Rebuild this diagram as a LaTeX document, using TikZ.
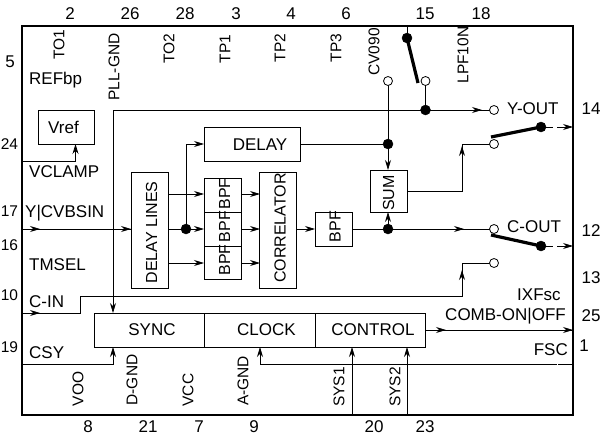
\documentclass[tikz,border=0pt]{standalone}
\usepackage{fontspec}
\setmainfont{Liberation Sans}
\usetikzlibrary{arrows.meta}
\tikzset{
 x=1pt,y=-1pt,
 blk/.style={draw,line width=0.8pt,inner sep=0pt},
 txt/.style={inner sep=0pt,font=\fontsize{17}{19}\selectfont},
 rtxt/.style={inner sep=0pt,rotate=90,font=\fontsize{16}{18}\selectfont},
 lab/.style={inner sep=0pt,anchor=west,font=\fontsize{17}{19}\selectfont},
 num/.style={inner sep=0pt,font=\fontsize{17}{19}\selectfont},
 lnum/.style={inner sep=0pt,anchor=west,font=\fontsize{15.5}{18}\selectfont},
 rot/.style={inner sep=0pt,rotate=90,font=\fontsize{15.5}{18}\selectfont},
 wire/.style={line width=0.8pt},
 arr/.style={wire,-{Stealth[length=10pt,width=6pt]}},
 dot/.style={circle,fill=black,draw=black,inner sep=0pt,minimum size=10pt},
 opendot/.style={circle,fill=white,draw=black,line width=0.8pt,inner sep=0pt,minimum size=9pt},
 sw/.style={line width=3.2pt},
}
\begin{document}
\begin{tikzpicture}
\useasboundingbox (0,0) rectangle (601,436);
\fill[white] (0,0) rectangle (601,436);
% frame
\draw[line width=2.2pt] (22,26) rectangle (573,415);
\coordinate (L1) at (22,161);\coordinate (L2) at (22,229);\coordinate (L3) at (22,313);\coordinate (L4) at (22,364);
% wires (drawn first, blocks and dots on top)
\draw[arr] (L1) -- (75.5,161) -- (75.5,144);
\draw[wire] (407,26) -- (407,38);
\draw[wire] (425.5,81) -- (425.5,110);
\draw[wire] (113,110) -- (494,110);
\draw[arr] (113,110) -- (113,313);
\draw[arr] (425.5,110) -- (482,110);
\draw[wire] (388,81) -- (388,144);
\draw[wire] (300,144) -- (388,144);
\draw[arr] (388,144) -- (388,170);
\draw[arr] (388,229) -- (388,212);
\draw[wire] (407,191) -- (462,191) -- (462,144) -- (494,144);
\draw[arr] (462,191) -- (462,146);
\draw[wire] (352,229) -- (494,229);
\draw[arr] (388,229) -- (464,229);
\draw[arr] (296,229) -- (315,229);
\draw[wire] (L3) -- (80,313) -- (80,296.5) -- (462,296.5) -- (462,263) -- (494,263);
\draw[arr] (462,296.5) -- (462,270);
\draw[arr] (L3) -- (40,313);
\draw[wire] (L2) -- (131,229);
\draw[arr] (L2) -- (40,229);
\draw[arr] (100,229) -- (131,229);
\draw[arr] (168,229) -- (204,229);
\draw[arr] (168,194) -- (204,194);
\draw[arr] (168,263) -- (204,263);
\draw[arr] (186,229) -- (186,144) -- (204,144);
\draw[arr] (241,194) -- (260,194);
\draw[arr] (241,229) -- (260,229);
\draw[arr] (241,263) -- (260,263);
\draw[arr] (L4) -- (113,364) -- (113,347);
\draw[wire] (573,364) -- (558,364);
\draw[wire] (556.5,364) -- (260,364);
\draw[arr] (260,364) -- (260,347);
\draw[arr] (352,415) -- (352,347);
\draw[arr] (407,415) -- (407,347);
\draw[wire] (425.5,330) -- (573,330);
\draw[arr] (425.5,330) -- (446,330);
\draw[arr] (545,330) -- (573,330);
\draw[wire] (541,127) -- (553,127);
\draw[arr] (557,127) -- (573,127);
\draw[wire] (541,246) -- (553,246);
\draw[arr] (557,246) -- (573,246);
% blocks
\node[blk,minimum width=55.5pt,minimum height=33.5pt] (vref) at (66.5,127.3) {};
\node[blk,minimum width=96pt,minimum height=34pt] (delay) at (252,144) {};
\node[blk,minimum width=37pt,minimum height=116pt] (lines) at (149.5,230) {};
\node[blk,minimum width=37pt,minimum height=34pt] (b1) at (222.5,195) {};
\node[blk,minimum width=37pt,minimum height=34pt] (b2) at (222.5,229) {};
\node[blk,minimum width=37pt,minimum height=33pt] (b3) at (222.5,262.5) {};
\node[blk,minimum width=37pt,minimum height=116pt] (corr) at (278,230) {};
\node[blk,minimum width=37pt,minimum height=34pt] (bpf) at (333.5,229) {};
\node[blk,minimum width=37pt,minimum height=42pt] (sum) at (388.5,191) {};
\node[blk,minimum width=110pt,minimum height=34pt] (sync) at (149,330) {};
\node[blk,minimum width=111pt,minimum height=34pt] (clock) at (259.5,330) {};
\node[blk,minimum width=110.5pt,minimum height=34pt] (control) at (370.25,330) {};
% block texts
\node[txt] (vrefT) at (63.5,127) {Vref};
\node[txt] (delayT) at (260,145) {DELAY};
\node[txt] (syncT) at (152,330) {SYNC};
\node[txt] (clockT) at (266.5,330) {CLOCK};
\node[txt] (controlT) at (373,330) {CONTROL};
\node[rtxt] (linesT) at (151.5,232.5) {DELAY LINES};
\node[rtxt] (corrT) at (280,228) {CORRELATOR};
\node[rtxt] (sumT) at (388.5,193) {SUM};
\node[rtxt] (b1T) at (224.5,194) {BPF};
\node[rtxt] (b2T) at (224.5,226.5) {BPF};
\node[rtxt] (b3T) at (224.5,260) {BPF};
\node[rtxt] (bpfT) at (335,226.5) {BPF};
% switches and terminals
\draw[sw] (407,38) -- (418,83);
\draw[sw] (491,137) -- (541,127);
\draw[sw] (491,235) -- (541,246);
\node[dot] (jdelay) at (388,144) {};
\node[dot] (jy) at (425.5,110) {};
\node[dot] (jb) at (388,229) {};
\node[dot] (ja) at (186,229) {};
\node[dot] (s15) at (407,38) {};
\node[dot] (ys) at (541,127) {};
\node[dot] (cs) at (541,246) {};
\node[opendot] (cv) at (388,81) {};
\node[opendot] (t15) at (425.5,81) {};
\node[opendot] (yo) at (494,110) {};
\node[opendot] (yin) at (494,144) {};
\node[opendot] (co) at (494,229) {};
\node[opendot] (cin) at (494,263) {};
% labels
\node[lab] (a) at (29,80) {REFbp};
\node[lab] (b) at (29,172) {VCLAMP};
\node[lab] (c) at (25,213) {Y|CVBSIN};
\node[lab] (d) at (29,265) {TMSEL};
\node[lab] (e) at (29,302) {C-IN};
\node[lab] (f) at (29,353) {CSY};
\node[lab] (g) at (507,109) {Y-OUT};
\node[lab] (h) at (507,227) {C-OUT};
\node[lab] (i) at (517,295) {IXFsc};
\node[lab,anchor=east] (j) at (566,316) {COMB-ON|OFF};
\node[lab,anchor=east] (k) at (568,350) {FSC};
\foreach \n/\t/\x/\y in {r1/TO1/59/45,r2/PLL-GND/114/67,r3/TO2/169/49,r4/TP1/225/49,r5/TP2/280/48,r6/TP3/336/48,r7/CV090/374/52,r8/LPF10N/463/55,r9/VOO/78/389,r10/D-GND/132/380,r11/VCC/188/390,r12/A-GND/243/381,r13/SYS1/339/387,r14/SYS2/395/387}
  \node[rot] (\n) at (\x,\y) {\t};
% pin numbers
\foreach \n/\t/\x/\y in {p2/2/70/14,p26/26/130/14,p28/28/185/14,p3/3/236/14,p4/4/291/14,p6/6/346/14,p15/15/425/14,p18/18/481/14,p5/5/10/62,p14/14/591/109,p12/12/591/231,p13/13/591/278,p25/25/591/316,p1/1/584/346,p8/8/88/427,p21/21/148/427,p7/7/199/427,p9/9/254/427,p20/20/374/427,p23/23/425/427}
  \node[num] (\n) at (\x,\y) {\t};
\foreach \n/\t/\y in {p24/24/144,p17/17/211,p16/16/245,p10/10/295,p19/19/347}
  \node[lnum] (\n) at (0.6,\y) {\t};
\end{tikzpicture}
\end{document}
